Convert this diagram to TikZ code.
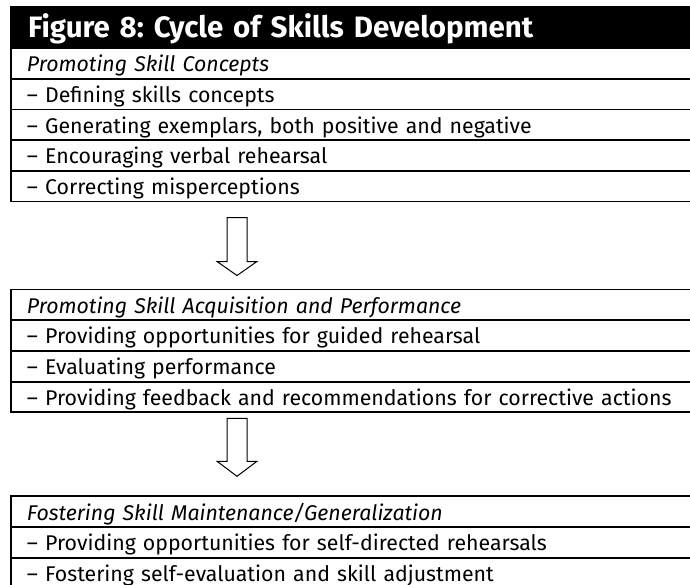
\documentclass[tikz,border=0pt]{standalone}
\usepackage{fontspec}
\setmainfont{Fira Sans}
\usepackage{tikz}
\usetikzlibrary{positioning}
\frenchspacing
\tikzstyle{titlebar} = [rectangle, fill=black, text=white, anchor=north west, minimum width=700pt, text width=666pt, inner xsep=18pt, inner ysep=0pt, text height=31pt, text depth=11pt, outer sep=0pt, align=left, font=\fontsize{29.5}{34}\selectfont\bfseries]
\tikzstyle{row} = [rectangle, draw=black, line width=1.8pt, minimum width=700pt, text width=668pt, inner xsep=16pt, inner ysep=0pt, text height=23.7pt, text depth=7pt, outer sep=0pt, align=left, font=\fontsize{21.3}{25}\selectfont]
\tikzstyle{blockarrow} = [draw=black, line width=1pt, fill=white, line join=miter]

\begin{document}
\begin{tikzpicture}[x=1pt, y=-1pt]
	\useasboundingbox (0,0) rectangle (690,584);
	\clip (0,0) rectangle (690,584);
	% first box
	\node (t1) [titlebar] at (10,6) {Figure 8: Cycle of Skills Development};
	\node (c0) [row, below=0pt of t1] {\itshape Promoting Skill Concepts};
	\node (c1) [row, below=0pt of c0] {-- Defining skills concepts};
	\node (c2) [row, below=0pt of c1] {-- Generating exemplars, both positive and negative};
	\node (c3) [row, below=0pt of c2] {-- Encouraging verbal rehearsal};
	\node (c4) [row, below=0pt of c3] {-- Correcting misperceptions};
	% second box
	\node (a0) [row, below=88pt of c4] {\itshape Promoting Skill Acquisition and Performance};
	\node (a1) [row, below=0pt of a0] {-- Providing opportunities for guided rehearsal};
	\node (a2) [row, below=0pt of a1] {-- Evaluating performance};
	\node (a3) [row, below=0pt of a2] {-- Providing feedback and recommendations for corrective actions};
	% third box
	\node (f0) [row, below=84pt of a3] {\itshape Fostering Skill Maintenance/Generalization};
	\node (f1) [row, below=0pt of f0] {-- Providing opportunities for self-directed rehearsals};
	\node (f2) [row, below=0pt of f1] {-- Fostering self-evaluation and skill adjustment};
	% block arrows
	\coordinate [below right=16pt and 216pt of c4.south west] (arrA);
	\coordinate [below right=6pt and 216pt of a3.south west] (arrB);
	\draw [blockarrow] (arrA) -- ++(20,0) -- ++(0,44) -- ++(10,0) -- ++(-20,14) -- ++(-20,-14) -- ++(10,0) -- cycle;
	\draw [blockarrow] (arrB) -- ++(20,0) -- ++(0,43) -- ++(10,0) -- ++(-20,15) -- ++(-20,-15) -- ++(10,0) -- cycle;
\end{tikzpicture}
\end{document}
